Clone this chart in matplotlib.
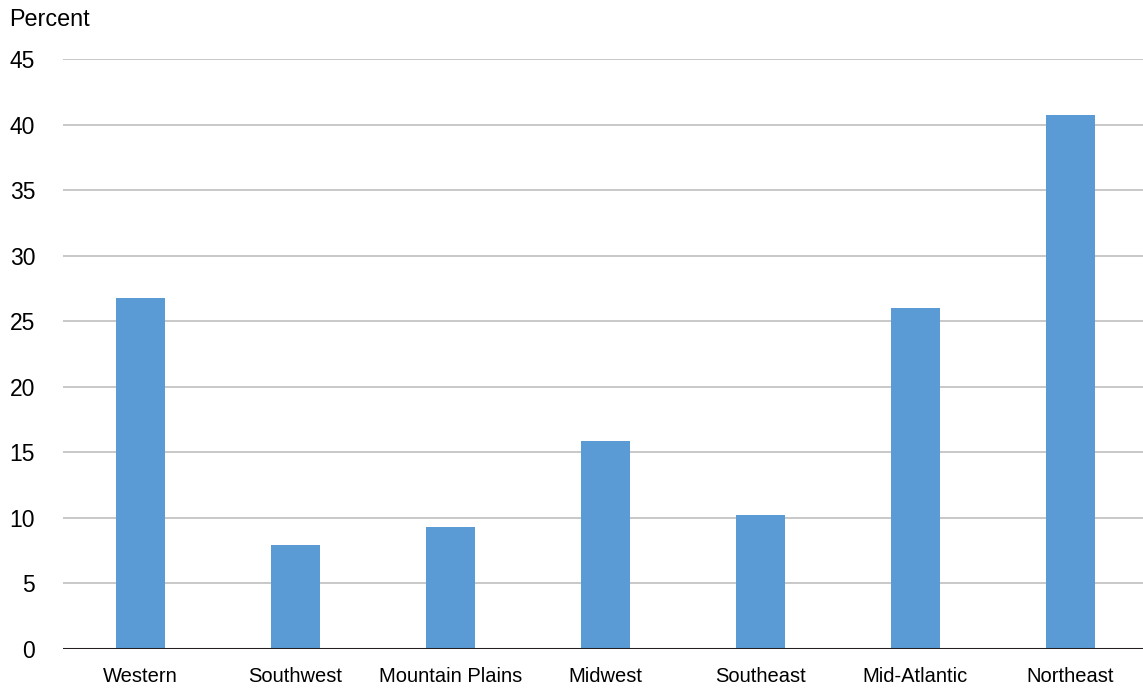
import matplotlib.pyplot as plt
import numpy as np

plt.rcParams['font.family'] = ['Liberation Sans', 'DejaVu Sans']

regions = ['Western', 'Southwest', 'Mountain Plains', 'Midwest', 'Southeast', 'Mid-Atlantic', 'Northeast']
percent = [26.8, 7.9, 9.3, 15.9, 10.2, 26.0, 40.7]
yticks = [0, 5, 10, 15, 20, 25, 30, 35, 40, 45]

W, H = 1143, 692
fig = plt.figure(figsize=(W / 100, H / 100), dpi=100)
ax = fig.add_axes([63 / W, 1 - 649 / H, 1085 / W, 590 / H])

x = np.arange(len(regions))
ax.bar(x, percent, width=0.316, color='#5B9BD5', zorder=2)

ax.set_xlim(-0.5, len(regions) - 0.5)
ax.set_ylim(0, 45)
ax.set_yticks(yticks)
ax.set_xticks(x)
ax.set_xticklabels(regions)
ax.yaxis.grid(True, color='#BFBFBF', linewidth=1.2, zorder=0)
ax.axhline(0, color='#231F20', linewidth=2.2, zorder=3)

for s in ax.spines.values():
    s.set_visible(False)
ax.tick_params(axis='y', length=0, pad=20, labelsize=16.5)
ax.tick_params(axis='x', length=0, pad=13, labelsize=14.5)

fig.text(9 / W, 1 - 19 / H, 'Percent', fontsize=16.8, va='center', ha='left')

fig.savefig('out.png', dpi=100)
